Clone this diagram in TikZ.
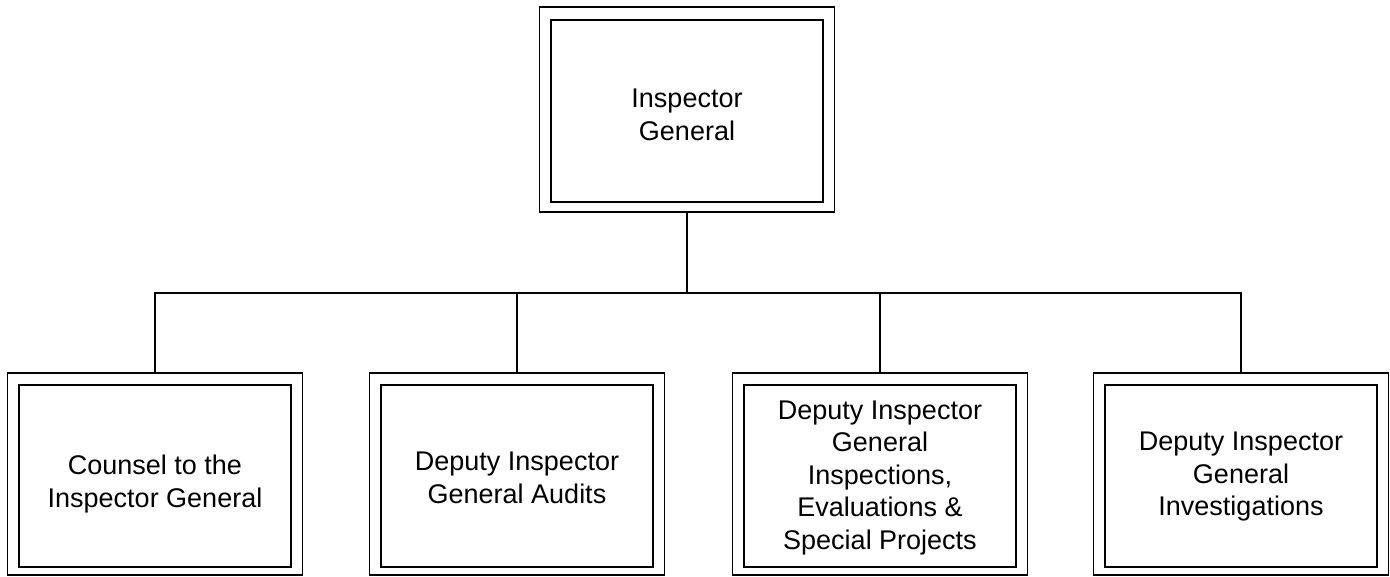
\documentclass[tikz,border=0pt]{standalone}
\usepackage{fontspec}
\setmainfont{Liberation Sans}
\begin{document}
\begin{tikzpicture}[x=1pt,y=-1pt,
  outerbox/.style={draw=black, line width=1.5pt, fill=none, inner sep=0pt,
    minimum width=295pt, minimum height=202pt},
  innerbox/.style={draw=black, line width=1.8pt, inner sep=0pt,
    minimum width=272pt, minimum height=182pt},
  label/.style={align=center, inner sep=0pt,
    font=\fontsize{27}{32.5}\selectfont},
  link/.style={draw=black, line width=1.5pt}]
\useasboundingbox (0,0) rectangle (1390,577);

% top position
\node[outerbox, minimum height=205pt] (ig) at (687,109.5) {};
\node[innerbox] (igin) at (687,111) {};
\node[label] (igtx) at (687,115) {Inspector\\General};

% subordinate offices
\node[outerbox] (c1) at (155,474) {};
\node[innerbox] (c1in) at (155,476) {};
\node[label] (c1tx) at (155,484) {Counsel to the\\Inspector General};

\node[outerbox] (c2) at (517,474) {};
\node[innerbox] (c2in) at (517,476) {};
\node[label] (c2tx) at (517,478) {Deputy Inspector\\General Audits};

\node[outerbox] (c3) at (880,474) {};
\node[innerbox] (c3in) at (880,476) {};
\node[label] (c3tx) at (880,478) {Deputy Inspector\\General\\Inspections,\\Evaluations \&\\Special Projects};

\node[outerbox] (c4) at (1241,474) {};
\node[innerbox] (c4in) at (1241,476) {};
\node[label] (c4tx) at (1241,477) {Deputy Inspector\\General\\Investigations};

% reporting lines
\coordinate (bus) at (687,293);
\draw[link] (ig.south) -- (bus);
\draw[link] (bus) -| (c1.north);
\draw[link] (bus) -| (c2.north);
\draw[link] (bus) -| (c3.north);
\draw[link] (bus) -| (c4.north);
\end{tikzpicture}
\end{document}
